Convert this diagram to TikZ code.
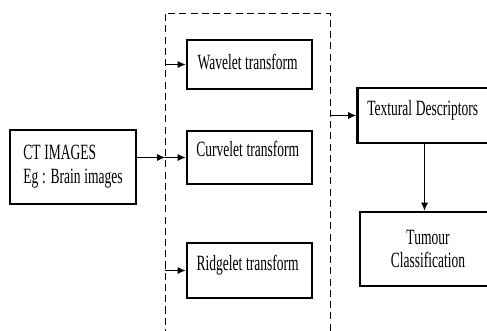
\documentclass[tikz,border=0pt]{standalone}
\usepackage{fontspec}
\usepackage{tikz}
\usetikzlibrary{arrows.meta, positioning}
\newfontfamily\narrowserif[FakeStretch=0.62]{Liberation Serif}
\newcommand\boxfont{\narrowserif\fontsize{15.5}{17}\selectfont\fontdimen2\font=2.6pt\relax}

\begin{document}
\begin{tikzpicture}[
		box/.style={
			rectangle,
			draw,
			line width=2pt,
			align=center,
			font=\boxfont,
			inner sep=4pt
		},
		arrow/.style={
			-{Latex[length=2mm,width=1.8mm]},
			line width=0.7pt
		},
		group/.style={
			dashed,
			dash pattern=on 5pt off 3pt,
			line width=0.7pt
		}
		]
		\useasboundingbox (0,0) rectangle (12.175,-8.25);
		\clip (0,0) rectangle (12.175,-8.25);
		
		% input
		\node[box, align=left, minimum width=3.15cm, minimum height=1.85cm] (ct) at (1.825,-4.175) {
			CT IMAGES\\
			Eg : Brain images
		};
		
		% transforms
		\node[box, minimum width=3.125cm, minimum height=1.225cm, text depth=0.15cm] (wavelet) at (6.2375,-1.6125) {
			Wavelet transform
		};
		
		\node[box, minimum width=3.125cm, minimum height=1.325cm, text depth=0.45cm] (curvelet) at (6.2375,-3.9375) {
			Curvelet transform
		};
		
		\node[box, minimum width=3.125cm, minimum height=1.375cm, text depth=0.4cm] (ridgelet) at (6.2375,-6.7625) {
			Ridgelet transform
		};
		
		% dashed group
		\coordinate (gtl) at (4.125,-0.325);
		\coordinate (gtr) at (8.25,-0.325);
		\coordinate (gbl) at (4.125,-8.4);
		\coordinate (gbr) at (8.25,-8.4);
		\draw[group] (gbl) -- (gtl) -- (gtr) -- (gbr);
		
		% output
		\node[box, minimum width=3.35cm, minimum height=1.375cm, text depth=0.4cm] (textural) at (10.6125,-2.8875) {
			Textural Descriptors
		};
		
		\node[box, minimum width=3.4cm, minimum height=1.85cm] (tumour) at (10.7,-6.225) {
			Tumour\\
			Classification
		};
		%--
		\coordinate (cin) at (gtl |- curvelet.west);
		\coordinate (win) at (gtl |- wavelet.west);
		\coordinate (rin) at (gtl |- ridgelet.west);
		\coordinate (tin) at (gtr |- textural.west);
		%--
		\draw[arrow] (ct.east |- cin) -- (cin);
		\draw[arrow] (cin) -- (curvelet.west);
		\draw[arrow] (win) -- (wavelet.west);
		\draw[arrow] (rin) -- (ridgelet.west);
		%--
		\draw[arrow] (tin) -- (textural.west);
		\draw[arrow] (textural.south) -- (textural.south |- tumour.north);
		
	\end{tikzpicture}
\end{document}
